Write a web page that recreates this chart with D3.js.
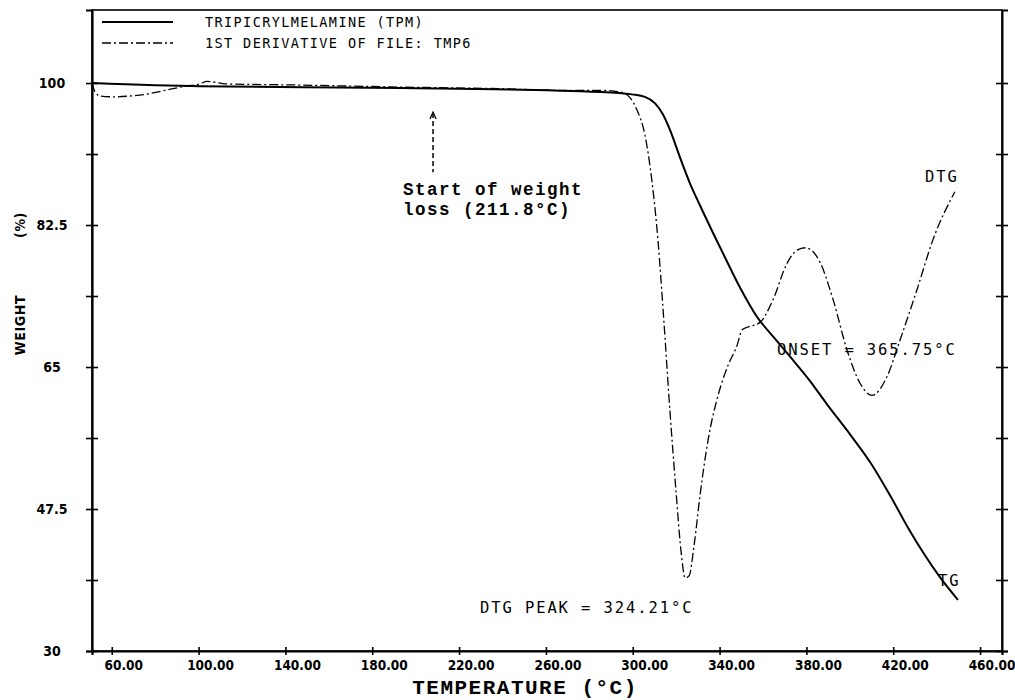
<!DOCTYPE html>
<html>
<head>
<meta charset="utf-8">
<script src="https://cdn.jsdelivr.net/npm/d3@7"></script>
<style>
  body { margin: 0; background: #fff; }
  svg { display: block; }
</style>
</head>
<body>
<div id="chart"></div>
<script>
// TG (weight %) and DTG traces
const tgTemp   = [50.9, 100.7, 192.8, 284.9, 299.7, 305.6, 310.3, 314.0, 317.2, 321.8, 326.4, 331.0, 336.5, 342.5, 349.4, 357.2, 365.5, 372.4, 381.6, 389.5, 400.1, 409.3, 418.5, 426.8, 434.6, 441.5, 449.8];
const tgWeight = [100.0, 99.6, 99.4, 98.9, 98.6, 98.3, 97.5, 96.1, 94.2, 90.8, 87.6, 84.9, 81.8, 78.5, 74.8, 71.2, 68.5, 66.3, 63.3, 60.4, 56.7, 53.3, 49.2, 45.2, 41.8, 39.1, 36.3];

const dtgTemp  = [50.9, 52.3, 54.6, 61.5, 68.4, 75.3, 84.5, 93.7, 100.7, 103.9, 107.6, 112.2, 146.7, 192.8, 238.8, 266.5, 284.9, 294.1, 298.7, 301.9, 305.6, 308.8, 311.6, 314.3, 317.1, 319.9, 322.2, 324.2, 326.0, 328.3, 331.0, 334.7, 339.3, 343.9, 348.1, 350.4, 352.7, 358.6, 364.6, 371.1, 375.7, 379.4, 383.1, 386.3, 392.3, 398.7, 404.7, 410.2, 417.1, 423.1, 430.9, 438.3, 448.4];
const dtgValue = [100.0, 98.9, 98.4, 98.3, 98.4, 98.6, 99.1, 99.6, 99.9, 100.2, 100.1, 99.9, 99.75, 99.5, 99.3, 99.1, 99.1, 98.9, 98.2, 96.7, 93.6, 88.0, 80.7, 70.8, 59.7, 49.8, 42.4, 39.0, 39.3, 43.1, 49.2, 56.0, 61.5, 65.2, 67.7, 69.6, 69.9, 70.5, 73.3, 77.8, 79.4, 79.7, 79.2, 77.9, 73.3, 67.1, 63.0, 61.5, 63.8, 68.3, 74.5, 80.7, 86.6];

const tempTicks   = [60, 100, 140, 180, 220, 260, 300, 340, 380, 420, 460];
const weightTicks = [30, 38.75, 47.5, 56.25, 65, 73.75, 82.5, 91.25, 100];
const weightLabels = [30, 47.5, 65, 82.5, 100];

const legendNames = ['TRIPICRYLMELAMINE (TPM)', '1ST DERIVATIVE OF FILE: TMP6'];

const width = 1015, height = 700;
const margin = { top: 10, right: 13, bottom: 49, left: 92 };
const plotW = width - margin.left - margin.right;
const plotH = height - margin.top - margin.bottom;

const tickFont = "'DejaVu Sans Condensed', 'DejaVu Sans', sans-serif";
const plotFont = "'DejaVu Sans Mono', monospace";
const typeFont = "'Liberation Mono', 'Courier New', monospace";

const svg = d3.select('#chart')
    .append('svg')
    .attr('width', width)
    .attr('height', height);

const g = svg.append('g')
    .attr('transform', `translate(${margin.left},${margin.top})`);

const x = d3.scaleLinear().domain([50.9, 470.1]).range([0, plotW]);
const y = d3.scaleLinear().domain([30, 109]).range([plotH, 0]);

// frame
g.append('rect')
    .attr('width', plotW)
    .attr('height', plotH)
    .attr('fill', 'none')
    .attr('stroke', '#000')
    .attr('stroke-width', 1.6);

// left axis, ticks crossing the line
const yAxis = g.append('g')
    .call(d3.axisLeft(y).tickValues(weightTicks).tickSize(6).tickFormat(''));
yAxis.select('.domain').attr('stroke-width', 2.2);
yAxis.selectAll('.tick line').attr('x1', 6).attr('x2', -6).attr('stroke-width', 1.6);

// right side ticks
const yRight = g.append('g')
    .attr('transform', `translate(${plotW},0)`)
    .call(d3.axisRight(y).tickValues(weightTicks).tickSize(6).tickFormat(''));
yRight.select('.domain').attr('stroke-width', 2);
yRight.selectAll('.tick line').attr('x1', -6).attr('x2', 6).attr('stroke-width', 1.6);

// y labels
g.selectAll('.ylab')
    .data(weightLabels)
    .join('text')
    .attr('class', 'ylab')
    .attr('x', -40)
    .attr('y', d => y(d))
    .attr('dy', '0.36em')
    .attr('text-anchor', 'middle')
    .style('font-family', tickFont)
    .style('font-weight', 'bold')
    .style('font-size', '14px')
    .text(d => d);

// bottom axis
const xAxis = g.append('g')
    .attr('transform', `translate(0,${plotH})`)
    .call(d3.axisBottom(x).tickValues(tempTicks).tickSize(4).tickFormat(''));
xAxis.select('.domain').attr('stroke-width', 2.2);
xAxis.selectAll('.tick line').attr('y1', -4).attr('y2', 4).attr('stroke-width', 1.6);

g.selectAll('.xlab')
    .data(tempTicks)
    .join('text')
    .attr('class', 'xlab')
    .attr('x', d => x(d) + 12)
    .attr('y', plotH + 19)
    .attr('text-anchor', 'middle')
    .style('font-family', tickFont)
    .style('font-weight', 'bold')
    .style('font-size', '13.5px')
    .text(d => d.toFixed(2));

// axis titles
[['WEIGHT', 325], ['(%)', 225]].forEach(([s, cy]) => {
    svg.append('text')
        .attr('transform', `translate(20,${cy}) rotate(-90)`)
        .attr('text-anchor', 'middle')
        .attr('dy', '0.36em')
        .style('font-family', tickFont)
        .style('font-weight', 'bold')
        .style('font-size', '14px')
        .style('letter-spacing', '0.6px')
        .text(s);
});

svg.append('text')
    .attr('x', 525)
    .attr('y', 694)
    .attr('text-anchor', 'middle')
    .style('font-family', typeFont)
    .style('font-weight', 'bold')
    .style('font-size', '21px')
    .style('letter-spacing', '1.5px')
    .text('TEMPERATURE (°C)');

// curves
const line = d3.line()
    .x(d => x(d[0]))
    .y(d => y(d[1]))
    .curve(d3.curveMonotoneX);

g.append('path')
    .datum(dtgTemp.map((t, i) => [t, dtgValue[i]]))
    .attr('d', line)
    .attr('fill', 'none')
    .attr('stroke', '#000')
    .attr('stroke-width', 1.3)
    .attr('stroke-dasharray', '9,3,2,3');

g.append('path')
    .datum(tgTemp.map((t, i) => [t, tgWeight[i]]))
    .attr('d', line)
    .attr('fill', 'none')
    .attr('stroke', '#000')
    .attr('stroke-width', 2);

// legend
const legend = g.append('g');
legendNames.forEach((name, i) => {
    const ly = 12 + i * 21;
    legend.append('line')
        .attr('x1', 10).attr('x2', 81)
        .attr('y1', ly).attr('y2', ly)
        .attr('stroke', '#000')
        .attr('stroke-width', i === 0 ? 1.8 : 1.3)
        .attr('stroke-dasharray', i === 0 ? null : '9,3,2,3');
    legend.append('text')
        .attr('x', 113)
        .attr('y', ly)
        .attr('dy', '0.36em')
        .style('font-family', plotFont)
        .style('font-size', '13.5px')
        .style('letter-spacing', '1.4px')
        .text(name);
});

// annotations
const ann = g.append('g');
const arrowX = x(208);

ann.append('line')
    .attr('x1', arrowX).attr('x2', arrowX)
    .attr('y1', y(96.3)).attr('y2', y(89.0))
    .attr('stroke', '#000')
    .attr('stroke-width', 1.5)
    .attr('stroke-dasharray', '5,3');
ann.append('path')
    .attr('d', `M${arrowX - 3},${y(96.3) + 6} L${arrowX},${y(96.3) - 1} L${arrowX + 3},${y(96.3) + 6}`)
    .attr('fill', 'none')
    .attr('stroke', '#000')
    .attr('stroke-width', 1.3);

['Start of weight', 'loss (211.8°C)'].forEach((s, i) => {
    ann.append('text')
        .attr('x', 311)
        .attr('y', 185 + i * 20)
        .style('font-family', typeFont)
        .style('font-weight', 'bold')
        .style('font-size', '17.5px')
        .style('letter-spacing', '1.5px')
        .style('white-space', 'pre')
        .text(s);
});

const plotText = (tx, ty, s) => ann.append('text')
    .attr('x', tx)
    .attr('y', ty)
    .attr('dy', '0.36em')
    .style('font-family', plotFont)
    .style('font-size', '15.5px')
    .style('letter-spacing', '1.9px')
    .text(s);

plotText(833, 166, 'DTG');
plotText(685, 339, 'ONSET = 365.75°C');
plotText(388, 597, 'DTG PEAK = 324.21°C');
plotText(846, 570, 'TG');
</script>
</body>
</html>
